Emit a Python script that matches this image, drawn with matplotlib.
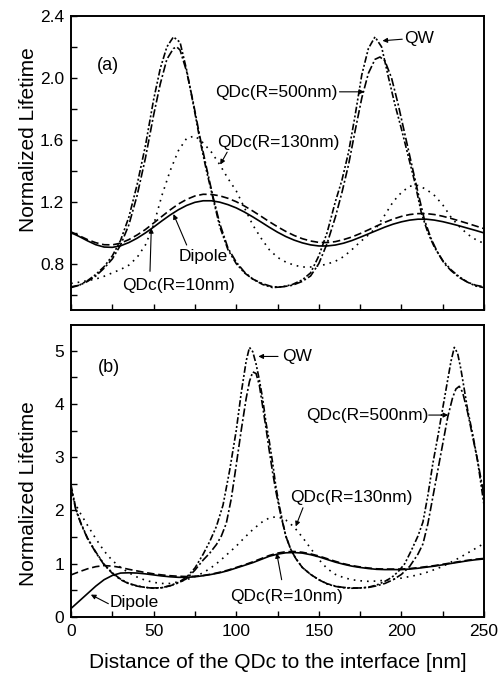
import matplotlib
matplotlib.use('Agg')
import matplotlib.pyplot as plt
from matplotlib.ticker import MultipleLocator, FormatStrFormatter

plt.rcParams['font.family'] = ['Liberation Sans', 'DejaVu Sans']

# ---- panel (a): distance grid shared by the slow curves ----
dist_a = [0, 5, 10, 15, 20, 25, 30, 35, 40, 45, 50, 55, 60, 65, 70, 75, 80, 85, 90, 95,
          100, 105, 110, 115, 120, 125, 130, 135, 140, 145, 150, 155, 160, 165, 170, 175,
          180, 185, 190, 195, 200, 205, 210, 215, 220, 225, 230, 235, 240, 245, 250]
dipole_a = [1.000, .975, .947, .922, .907, .905, .915, .936, .964, .998, 1.036, 1.076, 1.114,
            1.148, 1.176, 1.196, 1.206, 1.206, 1.197, 1.181, 1.160, 1.133, 1.102, 1.069, 1.035,
            1.003, .975, .952, .934, .921, .914, .914, .920, .932, .949, .970, .992, 1.014,
            1.036, 1.055, 1.070, 1.081, 1.087, 1.087, 1.081, 1.071, 1.058, 1.044, 1.029, 1.014, .998]
qdc10_a = [1.005, .980, .955, .935, .922, .921, .932, .955, .985, 1.020, 1.062, 1.105, 1.147,
           1.185, 1.215, 1.237, 1.248, 1.247, 1.238, 1.222, 1.200, 1.172, 1.140, 1.106, 1.071,
           1.038, 1.008, .982, .961, .946, .937, .936, .942, .955, .972, .994, 1.018, 1.043,
           1.067, 1.088, 1.105, 1.117, 1.123, 1.123, 1.117, 1.106, 1.092, 1.076, 1.060, 1.043, 1.026]
qdc130_a = [.672, .680, .690, .700, .718, .740, .762, .790, .840, .920, 1.05, 1.24, 1.40, 1.53,
            1.61, 1.625, 1.58, 1.52, 1.44, 1.35, 1.27, 1.16, 1.05, .965, .89, .84, .81, .79,
            .778, .778, .785, .797, .815, .845, .89, .94, .985, 1.035, 1.115, 1.20, 1.26, 1.30,
            1.305, 1.28, 1.24, 1.18, 1.10, 1.04, .99, .955, .93]

qw_a_x = [0, 5, 10, 15, 20, 25, 30, 35, 40, 45, 50, 54, 58, 62, 66, 70, 74, 78, 82, 86, 90, 95,
          100, 105, 110, 116, 122, 128, 134, 140, 145, 150, 155, 160, 164, 168, 172, 176, 180,
          184, 188, 192, 196, 200, 204, 208, 212, 216, 220, 225, 230, 235, 240, 245, 250]
qw_a = [.645, .66, .69, .73, .78, .85, .95, 1.10, 1.31, 1.56, 1.86, 2.06, 2.20, 2.265, 2.23,
        2.05, 1.83, 1.60, 1.40, 1.22, 1.04, .89, .80, .74, .70, .665, .645, .65, .665, .695,
        .74, .85, 1.00, 1.20, 1.34, 1.52, 1.76, 2.02, 2.19, 2.265, 2.20, 2.01, 1.83, 1.67, 1.50,
        1.33, 1.13, 1.0, .905, .82, .76, .715, .68, .655, .645]
qdc500_a_x = [0, 5, 10, 15, 20, 25, 30, 35, 40, 45, 50, 54, 58, 62, 64, 66, 70, 74, 78, 82, 86,
              90, 95, 100, 105, 110, 116, 122, 128, 134, 140, 145, 150, 155, 160, 164, 168, 172,
              176, 180, 184, 187, 190, 194, 198, 202, 206, 210, 214, 218, 222, 226, 230, 235,
              240, 245, 250]
qdc500_a = [.65, .66, .685, .72, .77, .83, .92, 1.05, 1.24, 1.48, 1.76, 1.96, 2.12, 2.19, 2.20,
            2.18, 2.04, 1.84, 1.62, 1.42, 1.23, 1.06, .90, .81, .745, .70, .67, .65, .65, .66,
            .685, .72, .80, .93, 1.10, 1.26, 1.44, 1.66, 1.87, 2.03, 2.12, 2.135, 2.11, 2.0, 1.83,
            1.64, 1.45, 1.26, 1.08, .96, .87, .80, .755, .71, .68, .66, .65]

# ---- panel (b) ----
dist_b = dist_a
dipole_b = [.16, .30, .44, .58, .70, .78, .825, .83, .825, .81, .79, .77, .755, .745, .745,
            .755, .775, .80, .83, .87, .92, .97, 1.02, 1.08, 1.14, 1.18, 1.205, 1.21, 1.20, 1.17,
            1.13, 1.08, 1.03, .99, .955, .93, .91, .895, .89, .89, .89, .90, .915, .935, .955,
            .98, 1.005, 1.03, 1.055, 1.075, 1.09]
qdc10_b = [.79, .85, .905, .945, .965, .955, .93, .895, .865, .835, .81, .79, .775, .765, .76,
           .765, .78, .805, .84, .88, .93, .98, 1.035, 1.095, 1.155, 1.20, 1.225, 1.23, 1.215,
           1.185, 1.145, 1.095, 1.045, 1.0, .965, .94, .92, .905, .90, .90, .90, .91, .925,
           .945, .965, .99, 1.015, 1.04, 1.065, 1.085, 1.10]
qdc130_b = [2.29, 1.98, 1.72, 1.47, 1.24, 1.06, .93, .83, .75, .69, .65, .63, .63, .66, .70,
            .76, .83, .93, 1.05, 1.19, 1.33, 1.49, 1.64, 1.77, 1.86, 1.885, 1.82, 1.69, 1.50,
            1.29, 1.08, .91, .80, .74, .70, .68, .67, .675, .69, .71, .73, .76, .79, .835, .89,
            .95, 1.03, 1.11, 1.20, 1.29, 1.38]

qw_b_x = [0, 3, 6, 10, 15, 20, 25, 30, 35, 40, 45, 50, 55, 60, 65, 70, 75, 80, 84, 88, 92, 96,
          100, 103, 106, 108, 110, 112, 114, 116, 118, 120, 122, 124, 126, 128, 130, 133, 136,
          140, 145, 150, 155, 160, 165, 170, 175, 180, 185, 190, 194, 198, 202, 206, 210, 213,
          216, 219, 222, 225, 228, 230, 232, 234, 236, 238, 240, 243, 246, 250]
qw_b = [2.48, 2.02, 1.76, 1.48, 1.22, .99, .83, .71, .63, .585, .555, .54, .55, .59, .65, .75,
        .92, 1.18, 1.42, 1.70, 2.10, 2.75, 3.50, 4.20, 4.80, 5.06, 4.98, 4.75, 4.45, 4.10, 3.65,
        3.30, 2.90, 2.45, 2.10, 1.80, 1.52, 1.27, 1.10, .93, .80, .70, .62, .575, .55, .54,
        .545, .56, .60, .67, .74, .85, 1.0, 1.25, 1.52, 1.78, 2.28, 2.88, 3.38, 3.92, 4.45,
        4.80, 5.06, 4.95, 4.65, 4.28, 3.90, 3.45, 2.95, 2.10]
qdc500_b_x = [0, 3, 6, 10, 15, 20, 25, 30, 35, 40, 45, 50, 55, 60, 65, 70, 75, 80, 84, 88, 91,
              94, 97, 100, 103, 106, 108, 110, 112, 114, 116, 118, 120, 122, 124, 126, 128, 130,
              133, 136, 140, 145, 150, 155, 160, 165, 170, 175, 180, 185, 190, 195, 200, 205,
              210, 213, 216, 219, 222, 225, 228, 231, 233, 235, 237, 240, 243, 246, 250]
qdc500_b = [2.42, 2.0, 1.75, 1.47, 1.21, .98, .82, .70, .625, .58, .555, .545, .55, .585, .64,
            .72, .88, 1.07, 1.20, 1.36, 1.52, 1.76, 2.22, 2.85, 3.50, 4.10, 4.42, 4.60, 4.57,
            4.35, 3.95, 3.55, 3.12, 2.72, 2.36, 2.05, 1.78, 1.52, 1.27, 1.10, .93, .80, .70,
            .625, .58, .555, .545, .545, .555, .585, .63, .70, .80, .95, 1.18, 1.37, 1.75, 2.25,
            2.75, 3.25, 3.75, 4.12, 4.28, 4.33, 4.22, 3.85, 3.40, 2.95, 2.28]

estilo = {
    'dipole': '-',
    'qdc10': (0, (4.5, 2.2)),
    'qdc130': (0, (1, 3)),
    'qdc500': (0, (5, 1.5, 1.2, 1.5)),
    'qw': (0, (4, 1.3, 1.2, 1.3, 1.2, 1.3)),
}
seta = dict(arrowstyle='-|>', lw=0.8, color='black', mutation_scale=7, shrinkA=0, shrinkB=0)
FS = 12.5

fig = plt.figure(figsize=(5.03, 6.75), dpi=100)
ax_a = fig.add_axes([0.1412, 0.5407, 0.8211, 0.4356])
ax_b = fig.add_axes([0.1412, 0.0859, 0.8211, 0.4326])


def curvas(ax, dist, dip, q10, q130, qwx, qw, q5x, q5):
    kw = dict(color='black', lw=1.2)
    ax.plot(dist, dip, ls=estilo['dipole'], **kw)
    ax.plot(dist, q10, ls=estilo['qdc10'], **kw)
    ax.plot(dist, q130, ls=estilo['qdc130'], **kw)
    ax.plot(q5x, q5, ls=estilo['qdc500'], **kw)
    ax.plot(qwx, qw, ls=estilo['qw'], **kw)


def formatar(ax, ylim, major, minor):
    ax.set_xlim(0, 250); ax.set_ylim(*ylim)
    ax.xaxis.set_major_locator(MultipleLocator(50))
    ax.xaxis.set_minor_locator(MultipleLocator(25))
    ax.yaxis.set_major_locator(MultipleLocator(major))
    ax.yaxis.set_minor_locator(MultipleLocator(minor))
    ax.tick_params(which='both', direction='in', top=False, right=False,
                   width=1.0, length=4.5, labelsize=FS, pad=5)
    for s in ax.spines.values():
        s.set_linewidth(1.4)


curvas(ax_a, dist_a, dipole_a, qdc10_a, qdc130_a, qw_a_x, qw_a, qdc500_a_x, qdc500_a)
formatar(ax_a, (0.5, 2.4), 0.4, 0.2)
ax_a.yaxis.set_major_formatter(FormatStrFormatter('%.1f'))
ax_a.tick_params(labelbottom=False)

curvas(ax_b, dist_b, dipole_b, qdc10_b, qdc130_b, qw_b_x, qw_b, qdc500_b_x, qdc500_b)
formatar(ax_b, (0, 5.48), 1, 0.5)

# labels and arrows, panel (a)
ax_a.text(22.4, 2.08, '(a)', ha='center', va='center', fontsize=13)
ax_a.text(201.5, 2.255, 'QW', ha='left', va='center', fontsize=FS)
ax_a.text(161.5, 1.907, 'QDc(R=500nm)', ha='right', va='center', fontsize=FS)
ax_a.text(88.4, 1.584, 'QDc(R=130nm)', ha='left', va='center', fontsize=FS)
ax_a.text(80.2, 0.847, 'Dipole', ha='center', va='center', fontsize=FS)
ax_a.text(65.2, 0.66, 'QDc(R=10nm)', ha='center', va='center', fontsize=FS)
for ini, fim in [((200.5, 2.25), (188.5, 2.24)), ((162.5, 1.91), (177.5, 1.91)),
                 ((94.5, 1.52), (90.3, 1.44)), ((70, 0.92), (62, 1.12)),
                 ((47.8, 0.75), (48.6, 1.03))]:
    ax_a.annotate('', xy=fim, xytext=ini, arrowprops=seta)

# labels and arrows, panel (b)
ax_b.text(23, 4.675, '(b)', ha='center', va='center', fontsize=13)
ax_b.text(127.7, 4.88, 'QW', ha='left', va='center', fontsize=FS)
ax_b.text(216.1, 3.79, 'QDc(R=500nm)', ha='right', va='center', fontsize=FS)
ax_b.text(132.6, 2.24, 'QDc(R=130nm)', ha='left', va='center', fontsize=FS)
ax_b.text(96.2, 0.38, 'QDc(R=10nm)', ha='left', va='center', fontsize=FS)
ax_b.text(23.6, 0.27, 'Dipole', ha='left', va='center', fontsize=FS)
for ini, fim in [((125.3, 4.89), (113.4, 4.89)), ((216.5, 3.79), (228.3, 3.79)),
                 ((140.4, 2.05), (136, 1.70)), ((127.5, 0.70), (124.5, 1.20)),
                 ((22.6, 0.25), (12, 0.42))]:
    ax_b.annotate('', xy=fim, xytext=ini, arrowprops=seta)

fig.text(28.5 / 503, 1 - 140 / 675, 'Normalized Lifetime', rotation=90,
         ha='center', va='center', fontsize=15)
fig.text(28.5 / 503, 1 - 494 / 675, 'Normalized Lifetime', rotation=90,
         ha='center', va='center', fontsize=15)
fig.text(277.5 / 503, 1 - 663 / 675, 'Distance of the QDc to the interface [nm]',
         ha='center', va='center', fontsize=15)

fig.savefig('out.png', dpi=100)
plt.close(fig)
